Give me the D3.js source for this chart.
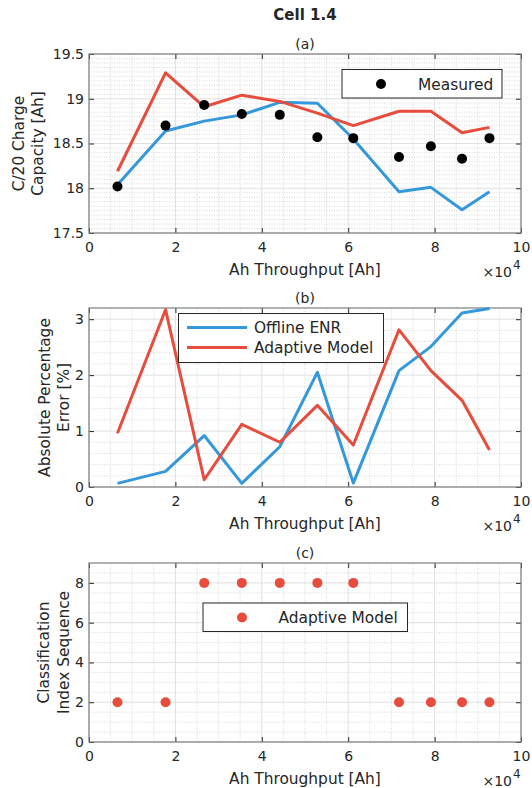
<!DOCTYPE html>
<html>
<head>
<meta charset="utf-8">
<script src="https://cdn.jsdelivr.net/npm/d3@7"></script>
<style>
  body { margin: 0; background: #fff; }
  text { font-family: "DejaVu Sans", sans-serif; fill: #262626; }
</style>
</head>
<body>
<script>
// data
var throughput = [6590, 17720, 26670, 35370, 44160, 52860, 61180, 71760, 79140, 86350, 92700];
var measured = [18.02, 18.70, 18.93, 18.83, 18.82, 18.57, 18.56, 18.35, 18.47, 18.33, 18.56];
var offlineEnr = [18.04, 18.64, 18.75, 18.82, 18.96, 18.95, 18.55, 17.96, 18.01, 17.76, 17.96];
var adaptive = [18.19, 19.29, 18.91, 19.04, 18.97, 18.84, 18.70, 18.86, 18.86, 18.62, 18.68];
var errEnr = [0.065, 0.28, 0.92, 0.065, 0.72, 2.05, 0.07, 2.08, 2.51, 3.11, 3.19];
var errAdaptive = [0.96, 3.17, 0.13, 1.12, 0.80, 1.46, 0.75, 2.81, 2.08, 1.55, 0.66];
var classIndex = [2, 2, 8, 8, 8, 8, 8, 2, 2, 2, 2];
var xTicks = [0, 20000, 40000, 60000, 80000, 100000];

var blue = "#3498DB", red = "#E74C3C";
var W = 532, H = 788;
var left = 89, right = 521, ph = 179;
var lblSize = 15.4; // labels are 1.1x tick font

var svg = d3.select("body").append("svg")
    .attr("width", W)
    .attr("height", H);

var x = d3.scaleLinear().domain([0, 100000]).range([left, right]);

svg.append("text")
    .attr("x", (left + right) / 2).attr("y", 20)
    .attr("text-anchor", "middle")
    .attr("font-size", 15).attr("font-weight", "bold")
    .text("Cell 1.4");

function panel(top, yDomain, yTicks, yMinorStep, title, ylabel, labelX) {
    var y = d3.scaleLinear().domain(yDomain).range([top + ph, top]);
    var g = svg.append("g");

    // minor grid
    d3.range(0, 100001, 5000).forEach(function(v) {
        if (v % 20000 == 0) return;
        g.append("line").attr("x1", x(v)).attr("x2", x(v))
            .attr("y1", top).attr("y2", top + ph)
            .attr("stroke", "#cfcfcf").attr("stroke-width", 0.8)
            .attr("stroke-dasharray", "1,1.5");
    });
    var n = Math.round((yDomain[1] - yDomain[0]) / yMinorStep);
    for (var i = 1; i < n; i++) {
        var v = yDomain[0] + i * yMinorStep;
        if (yTicks.some(function(t) { return Math.abs(t - v) < 1e-6; })) continue;
        g.append("line").attr("x1", left).attr("x2", right)
            .attr("y1", y(v)).attr("y2", y(v))
            .attr("stroke", "#cfcfcf").attr("stroke-width", 0.8)
            .attr("stroke-dasharray", "1,1.5");
    }
    // major grid
    xTicks.forEach(function(v) {
        g.append("line").attr("x1", x(v)).attr("x2", x(v))
            .attr("y1", top).attr("y2", top + ph)
            .attr("stroke", "#e0e0e0").attr("stroke-width", 1);
    });
    yTicks.forEach(function(v) {
        g.append("line").attr("x1", left).attr("x2", right)
            .attr("y1", y(v)).attr("y2", y(v))
            .attr("stroke", "#e0e0e0").attr("stroke-width", 1);
    });

    // axes with inward ticks
    var fmtX = function(d) { return d / 10000; };
    var ax = g.append("g").attr("transform", "translate(0," + (top + ph) + ")")
        .call(d3.axisBottom(x).tickValues(xTicks).tickFormat(fmtX).tickSizeInner(-5).tickSizeOuter(0).tickPadding(9));
    var axT = g.append("g").attr("transform", "translate(0," + top + ")")
        .call(d3.axisTop(x).tickValues(xTicks).tickFormat("").tickSizeInner(-5).tickSizeOuter(0));
    var ay = g.append("g").attr("transform", "translate(" + left + ",0)")
        .call(d3.axisLeft(y).tickValues(yTicks).tickFormat(d3.format("~g")).tickSizeInner(-5).tickSizeOuter(0).tickPadding(5));
    var ayR = g.append("g").attr("transform", "translate(" + right + ",0)")
        .call(d3.axisRight(y).tickValues(yTicks).tickFormat("").tickSizeInner(-5).tickSizeOuter(0));
    [ax, axT, ay, ayR].forEach(function(a) {
        a.select(".domain").remove();
        a.selectAll(".tick line").attr("stroke", "#262626");
        a.selectAll(".tick text").attr("font-size", 14).attr("fill", "#262626")
            .attr("font-family", "DejaVu Sans, sans-serif");
    });
    g.append("rect").attr("x", left).attr("y", top)
        .attr("width", right - left).attr("height", ph)
        .attr("fill", "none").attr("stroke", "#7f7f7f").attr("stroke-width", 1.2);

    g.append("text").attr("x", (left + right) / 2).attr("y", top - 5)
        .attr("text-anchor", "middle").attr("font-size", 14).text(title);
    g.append("text").attr("x", (left + right) / 2).attr("y", top + ph + 42)
        .attr("text-anchor", "middle").attr("font-size", lblSize).text("Ah Throughput [Ah]");
    g.append("text").attr("x", 512).attr("y", top + ph + 44)
        .attr("text-anchor", "end").attr("font-size", 14).text("\u00d710");
    g.append("text").attr("x", 513).attr("y", top + ph + 36)
        .attr("font-size", 12).text("4");

    ylabel.forEach(function(t, i) {
        var cx = labelX[i], cy = top + ph / 2;
        g.append("text")
            .attr("transform", "translate(" + cx + "," + cy + ") rotate(-90)")
            .attr("text-anchor", "middle").attr("dy", "0.35em")
            .attr("font-size", lblSize).text(t);
    });
    return { g: g, y: y };
}

function drawLine(p, vals, color) {
    var line = d3.line()
        .x(function(d, i) { return x(throughput[i]); })
        .y(function(d) { return p.y(d); });
    p.g.append("path").datum(vals)
        .attr("d", line).attr("fill", "none")
        .attr("stroke", color).attr("stroke-width", 3)
        .attr("stroke-linejoin", "round");
}

function drawDots(p, vals, color) {
    p.g.selectAll(null).data(vals).enter().append("circle")
        .attr("cx", function(d, i) { return x(throughput[i]); })
        .attr("cy", function(d) { return p.y(d); })
        .attr("r", 5).attr("fill", color);
}

// (a)
var pa = panel(54, [17.5, 19.5], [17.5, 18, 18.5, 19, 19.5], 0.05, "(a)",
    ["C/20 Charge", "Capacity [Ah]"], [19, 38]);
drawLine(pa, offlineEnr, blue);
drawLine(pa, adaptive, red);
drawDots(pa, measured, "#000");
pa.g.append("rect").attr("x", 342).attr("y", 69.5).attr("width", 160).attr("height", 28.5)
    .attr("fill", "#fff").attr("stroke", "#262626").attr("stroke-width", 1);
pa.g.append("circle").attr("cx", 381).attr("cy", 84).attr("r", 5).attr("fill", "#000");
pa.g.append("text").attr("x", 418).attr("y", 89.5).attr("font-size", lblSize).text("Measured");

// (b)
var pb = panel(308, [0, 3.2], [0, 1, 2, 3], 0.2, "(b)",
    ["Absolute Percentage", "Error [%]"], [45, 64]);
drawLine(pb, errEnr, blue);
drawLine(pb, errAdaptive, red);
pb.g.append("rect").attr("x", 178.5).attr("y", 313.5).attr("width", 205).attr("height", 49)
    .attr("fill", "#fff").attr("stroke", "#262626").attr("stroke-width", 1);
[["Offline ENR", blue], ["Adaptive Model", red]].forEach(function(d, i) {
    var ly = 327.5 + i * 20;
    pb.g.append("line").attr("x1", 187).attr("x2", 247).attr("y1", ly).attr("y2", ly)
        .attr("stroke", d[1]).attr("stroke-width", 3);
    pb.g.append("text").attr("x", 254).attr("y", ly + 5.5).attr("font-size", lblSize).text(d[0]);
});

// (c)
var pc = panel(563, [0, 9], [0, 2, 4, 6, 8], 0.5, "(c)",
    ["Classification", "Index Sequence"], [44, 64]);
drawDots(pc, classIndex, red);
pc.g.append("rect").attr("x", 203).attr("y", 603).attr("width", 204.5).attr("height", 28.5)
    .attr("fill", "#fff").attr("stroke", "#262626").attr("stroke-width", 1);
pc.g.append("circle").attr("cx", 242).attr("cy", 617.5).attr("r", 5).attr("fill", red);
pc.g.append("text").attr("x", 278.5).attr("y", 623).attr("font-size", lblSize).text("Adaptive Model");
</script>
</body>
</html>
